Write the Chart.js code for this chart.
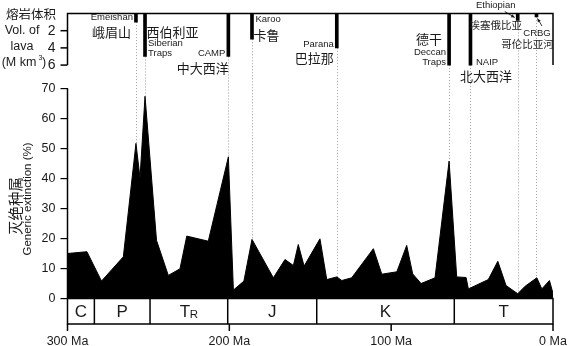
<!DOCTYPE html>
<html>
<head>
<meta charset="utf-8">
<script src="https://cdn.jsdelivr.net/npm/chart.js@4.4.0/dist/chart.umd.min.js"></script>
<style>
  body { margin: 0; background: #fff; }
  #wrap { width: 569px; height: 346px; }
</style>
</head>
<body>
<div id="wrap"><canvas id="chart" width="569" height="346"></canvas></div>
<script>
// generic extinction (%) through time, ages in Ma
const extinctionAges = [300, 288, 279, 265.5, 257.7, 255.2, 252.1, 245, 237.7, 230.5, 226.3, 213,
  200.6, 197.5, 191, 186, 172.8, 165.6, 160.4, 157.4, 153.8, 144, 139.8, 133.6, 130.5, 124.4,
  111, 105.8, 96.5, 90.4, 86.7, 81.5, 72.9, 64.2, 59.5, 53.7, 52.3, 40, 34.1, 29, 21.8, 17.2,
  10, 6.9, 2.2, 0];
const extinctionValues = [15, 15.6, 5.8, 13.9, 51.7, 40.2, 67.4, 19.4, 7.7, 9.9, 20.8, 19.1,
  47.2, 2.8, 5.8, 19.7, 6.9, 13, 11, 18, 10.8, 19.9, 6.3, 7.2, 6.0, 6.9,
  16.6, 8.1, 8.9, 17.7, 8.2, 5.0, 6.9, 45.8, 7.2, 7.0, 3.2, 6.3, 12.4, 4.3, 1.6, 4.1,
  6.9, 3.2, 6.0, 1.7];

// large igneous provinces: age (Ma) and lava volume (M km3)
const lipNames = ['Emeishan', 'Siberian', 'CAMP', 'Karoo', 'Parana', 'Deccan', 'NAIP', 'Ethiopian', 'CRBG'];
const lipAges = [257.7, 252.1, 200.6, 186, 133.6, 64.2, 51, 21.8, 10.2];
const lipVolumes = [1.0, 5.0, 5.0, 3.0, 4.0, 6.0, 6.0, 0.8, 0.4];

// geological periods (boundaries in Ma)
const periodNames = ['C', 'P', 'TR', 'J', 'K', 'T'];
const periodBounds = [300, 283.4, 249, 201, 146, 61, 0];

const ageTicks = [300, 200, 100, 0];
const extinctionTicks = [0, 10, 20, 30, 40, 50, 60, 70];
const volumeTicks = [2, 4, 6];

const EN = '"Liberation Sans", Arial, sans-serif';
const ZH = '"Noto Sans CJK SC", "Noto Sans", sans-serif';
const INK = '#1a1a1a';

// label placement around each lava bar: [text, dx from bar, y, align, style]
const lipLabelLayout = {
  Emeishan:  [['Emeishan', -3, 17.5, 'right', 'en'], ['峨眉山', -5, 32, 'right', 'zh']],
  Siberian:  [['西伯利亚', 1.5, 32, 'left', 'zh'], ['Siberian', 3, 43, 'left', 'en'], ['Traps', 3, 53, 'left', 'en']],
  CAMP:      [['CAMP', -3, 53, 'right', 'en'], ['中大西洋', 0.5, 68, 'right', 'zh']],
  Karoo:     [['Karoo', 3.5, 19.5, 'left', 'en'], ['卡鲁', 1.5, 35, 'left', 'zh']],
  Parana:    [['Parana', -3, 44, 'right', 'en'], ['巴拉那', -3, 58, 'right', 'zh']],
  Deccan:    [['德干', -7, 39, 'right', 'zh'], ['Deccan', -3, 52.5, 'right', 'en'], ['Traps', -3, 62, 'right', 'en']],
  NAIP:      [['NAIP', 5.5, 62, 'left', 'en'], ['北大西洋', 15.5, 76, 'center', 'zh']],
  Ethiopian: [['Ethiopian', -22, 5, 'center', 'en'], ['埃塞俄比亚', -22, 25, 'center', 'zhs']],
  CRBG:      [['CRBG', 0.5, 33, 'center', 'en'], ['哥伦比亚河', -9, 44, 'center', 'zhs']]
};
const labelFonts = { en: '9.5px ' + EN, zh: '13px ' + ZH, zhs: '10.5px ' + ZH };

function extinctionAt(age) {
  for (let i = 1; i < extinctionAges.length; i++) {
    const a0 = extinctionAges[i - 1], a1 = extinctionAges[i];
    if (age <= a0 && age >= a1) {
      const t = (a0 - age) / (a0 - a1);
      return extinctionValues[i - 1] + t * (extinctionValues[i] - extinctionValues[i - 1]);
    }
  }
  return 0;
}

function put(ctx, str, x, y, font, align) {
  ctx.font = font;
  ctx.textAlign = align || 'center';
  ctx.textBaseline = 'middle';
  ctx.fillText(str, x, y);
}

function arrow(ctx, x0, y0, x1, y1) {
  const ang = Math.atan2(y1 - y0, x1 - x0);
  ctx.beginPath();
  ctx.moveTo(x0, y0);
  ctx.lineTo(x1, y1);
  ctx.stroke();
  ctx.beginPath();
  ctx.moveTo(x1, y1);
  ctx.lineTo(x1 - 4 * Math.cos(ang - 0.45), y1 - 4 * Math.sin(ang - 0.45));
  ctx.lineTo(x1 - 4 * Math.cos(ang + 0.45), y1 - 4 * Math.sin(ang + 0.45));
  ctx.closePath();
  ctx.fill();
}

const decor = {
  id: 'decor',
  beforeDatasetsDraw(chart) {
    // dotted guides from each lava bar down to the extinction curve
    const { ctx, scales: { x, y, lava } } = chart;
    ctx.save();
    ctx.strokeStyle = '#a0a0a0';
    ctx.lineWidth = 1;
    ctx.setLineDash([1, 2]);
    lipAges.forEach((age, i) => {
      const px = Math.round(x.getPixelForValue(age)) + 0.5;
      ctx.beginPath();
      ctx.moveTo(px, lava.getPixelForValue(lipVolumes[i]));
      ctx.lineTo(px, y.getPixelForValue(extinctionAt(age)));
      ctx.stroke();
    });
    ctx.restore();
  },
  afterDraw(chart) {
    const { ctx, scales: { x, y, lava } } = chart;
    const left = x.getPixelForValue(300), right = x.getPixelForValue(0);
    ctx.save();
    ctx.strokeStyle = '#000';
    ctx.fillStyle = INK;
    ctx.lineWidth = 1.5;

    // lava panel frame and its axis
    const lTop = lava.getPixelForValue(0), lBot = lava.getPixelForValue(6);
    ctx.beginPath();
    ctx.moveTo(left, lBot);
    ctx.lineTo(left, lTop);
    ctx.lineTo(right, lTop);
    ctx.lineTo(right, lBot);
    ctx.stroke();
    volumeTicks.forEach(v => {
      const py = lava.getPixelForValue(v);
      ctx.beginPath();
      ctx.moveTo(left - 7, py);
      ctx.lineTo(left, py);
      ctx.stroke();
      put(ctx, String(v), left - 12, py, '14px ' + EN, 'right');
    });
    put(ctx, '熔岩体积', 31, 14.5, '12.5px ' + ZH);
    put(ctx, 'Vol. of', 22, 31, '12.5px ' + EN);
    put(ctx, 'lava', 22, 47, '12.5px ' + EN);
    put(ctx, '(M km', 19, 63, '12.5px ' + EN);
    put(ctx, '3', 38.5, 58.5, '7px ' + EN, 'left');
    put(ctx, ')', 42, 63, '12.5px ' + EN, 'left');

    // lava labels and arrows
    lipNames.forEach((name, i) => {
      const bx = x.getPixelForValue(lipAges[i]);
      lipLabelLayout[name].forEach(([t, dx, ty, align, style]) => {
        put(ctx, t, bx + dx, ty, labelFonts[style], align);
      });
      if (name === 'Ethiopian') {
        ctx.lineWidth = 0.8;
        arrow(ctx, bx - 13, 11.5, bx - 3, 17.5);
      }
      if (name === 'CRBG') {
        ctx.lineWidth = 0.8;
        arrow(ctx, bx + 5.5, 26, bx + 1, 18.5);
      }
    });
    ctx.lineWidth = 1.5;

    // extinction axis line
    const y0 = y.getPixelForValue(0);
    ctx.beginPath();
    ctx.moveTo(left, y.getPixelForValue(70));
    ctx.lineTo(left, y0);
    ctx.stroke();

    // period band
    const bTop = y0, bBot = y0 + 25.5;
    ctx.strokeRect(left, bTop, right - left, bBot - bTop);
    periodBounds.slice(1, -1).forEach(a => {
      const px = x.getPixelForValue(a);
      ctx.beginPath();
      ctx.moveTo(px, bTop);
      ctx.lineTo(px, bBot);
      ctx.stroke();
    });
    ageTicks.forEach(a => {
      const px = x.getPixelForValue(a);
      ctx.beginPath();
      ctx.moveTo(px, bBot);
      ctx.lineTo(px, bBot + 7);
      ctx.stroke();
    });
    periodNames.forEach((p, i) => {
      const cx = (x.getPixelForValue(periodBounds[i]) + x.getPixelForValue(periodBounds[i + 1])) / 2;
      const cy = (bTop + bBot) / 2 + 1;
      if (p === 'TR') {
        put(ctx, 'T', cx - 4, cy, '17px ' + EN);
        put(ctx, 'R', cx + 5, cy + 2.5, '11.5px ' + EN);
      } else {
        put(ctx, p, cx, cy, '17px ' + EN);
      }
    });

    // extinction axis title
    ctx.translate(15, 206);
    ctx.rotate(-Math.PI / 2);
    put(ctx, '灭绝种属', 0, 0, '14.5px ' + ZH);
    ctx.rotate(Math.PI / 2);
    ctx.translate(-15, -206);
    ctx.translate(28, 199);
    ctx.rotate(-Math.PI / 2);
    put(ctx, 'Generic extinction (%)', 0, 0, '11.5px ' + EN);
    ctx.restore();
  }
};

new Chart(document.getElementById('chart'), {
  type: 'line',
  data: {
    datasets: [{
      label: 'Generic extinction',
      data: extinctionAges.map((a, i) => ({ x: a, y: extinctionValues[i] })),
      yAxisID: 'y',
      fill: 'origin',
      backgroundColor: '#000',
      borderColor: '#000',
      borderWidth: 1,
      pointRadius: 0,
      tension: 0
    }, {
      type: 'bar',
      label: 'Lava volume',
      data: lipAges.map((a, i) => ({ x: a, y: lipVolumes[i] })),
      yAxisID: 'lava',
      backgroundColor: '#000',
      borderWidth: 0,
      barThickness: 3
    }]
  },
  options: {
    responsive: false,
    devicePixelRatio: 1,
    animation: false,
    layout: { padding: { top: 13.5, right: 16, left: 0, bottom: 0 } },
    plugins: { legend: { display: false }, tooltip: { enabled: false } },
    scales: {
      x: {
        type: 'linear', reverse: true, min: 0, max: 300, offset: false,
        // tick marks are hidden; their length only pushes the labels below the period band
        grid: { display: false, drawTicks: true, tickLength: 36 },
        border: { display: false },
        ticks: { stepSize: 100, padding: 0, maxRotation: 0, color: INK, font: { family: EN, size: 12.5 },
          callback: v => v + ' Ma' },
        afterBuildTicks: s => { s.ticks = ageTicks.map(v => ({ value: v })); },
        afterFit: s => { s.height = 47.5; }
      },
      y: {
        type: 'linear', position: 'left', min: 0, max: 95,
        grid: { drawOnChartArea: false, tickLength: 7, color: '#000', lineWidth: 1.2 },
        border: { display: false },
        ticks: { padding: 5, color: INK, font: { family: EN, size: 12.5 } },
        afterBuildTicks: s => { s.ticks = extinctionTicks.map(v => ({ value: v })); },
        afterFit: s => { s.width = 67.5; }
      },
      lava: {
        axis: 'y', type: 'linear', position: 'right', display: false,
        reverse: true, min: 0, max: 33.15
      }
    }
  },
  plugins: [decor]
});
</script>
</body>
</html>
